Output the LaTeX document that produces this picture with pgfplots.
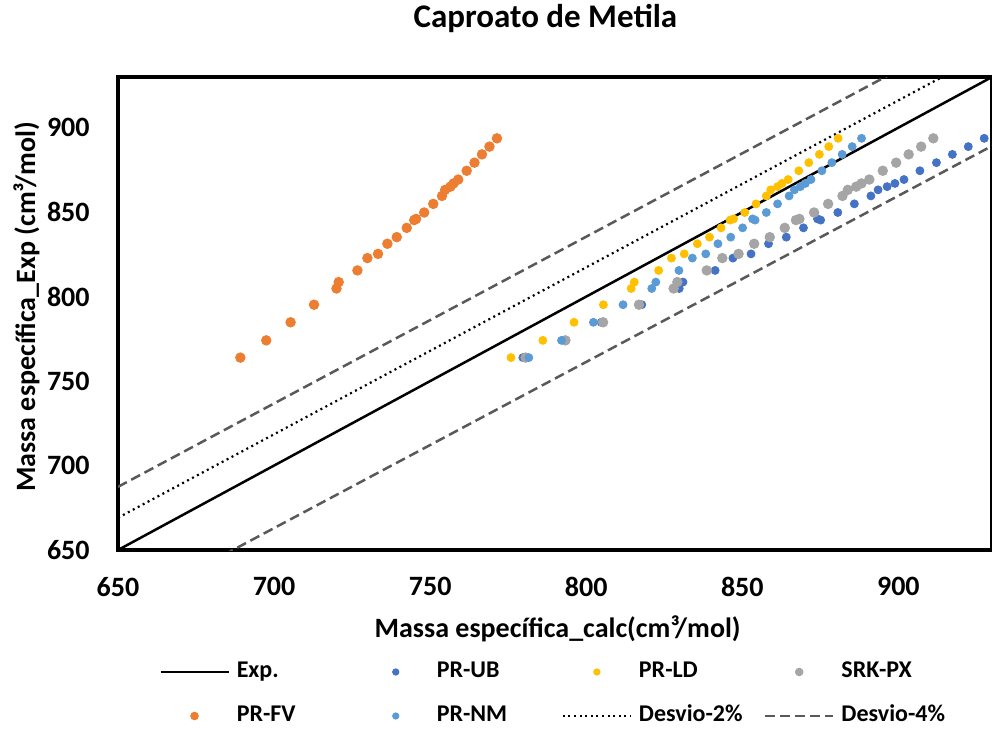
\documentclass[border=0pt]{standalone}
\usepackage{pgfplots}
\pgfplotsset{compat=1.18}
\usepackage{pgfplotstable}
\usepackage{fontspec}
\setmainfont{Carlito}

\definecolor{ub}{HTML}{4472C4}
\definecolor{ld}{HTML}{FFC000}
\definecolor{px}{HTML}{A5A5A5}
\definecolor{fv}{HTML}{ED7D31}
\definecolor{nm}{HTML}{5B9BD5}
\definecolor{dv}{HTML}{595959}

% y = experimental value, other columns = calculated value per model
\pgfplotstableread{
y     fv     ld     nm     px     ub
763.9 689.2  775.9  781.6  780.6  779.7
774.1 697.5  786.1  792.1  793.3  793.5
784.8 705.3  796.1  802.3  805.4  804.8
795.2 712.8  805.5  811.8  816.9  817.8
804.8 720.0  814.4  821.0  828.0  829.8
808.6 720.7  815.4  822.3  829.2  831.0
815.5 726.7  823.2  829.7  838.6  841.3
822.8 729.9  827.3  834.0  843.6  847.0
825.3 733.3  831.4  838.3  848.8  852.8
831.3 736.3  835.6  842.2  853.8  858.4
835.2 739.3  839.5  846.3  858.8  864.1
840.7 742.5  843.2  850.1  863.6  869.6
845.3 744.9  846.1  854.1  867.2  875.1
846.0 745.5  847.2  853.3  868.3  874.1
849.8 748.1  850.8  857.7  873.0  880.6
854.9 751.0  854.4  861.3  877.5  885.9
859.6 753.8  857.7  865.0  882.1  891.2
863.2 754.8  859.1  866.7  883.8  893.5
865.1 756.5  861.3  868.6  886.5  896.4
867.0 757.5  862.7  870.2  888.2  898.9
869.3 759.0  864.7  872.0  890.7  901.8
874.5 761.7  868.1  875.5  895.0  906.9
879.3 764.2  871.3  878.7  899.3  912.2
884.2 766.6  874.7  882.0  903.3  917.3
888.8 769.0  877.7  885.2  907.3  922.4
893.7 771.4  880.7  888.2  911.2  927.5
}\dados

\pgfplotsset{
  legimg/.style={legend image code/.code={%
    \path[draw=none, fill=none] (0pt,-3pt) rectangle (34pt,3pt);
    \draw[mark repeat=2,mark phase=2,##1] plot coordinates {(0pt,0pt) (17pt,0pt) (34pt,0pt)};}},
  pts/.style={only marks, mark=*, color=#1, legimg},
}

\begin{document}
\begin{tikzpicture}
\begin{axis}[
  scale only axis,
  width=437pt, height=236.5pt,
  xmin=650, xmax=930, ymin=650, ymax=930,
  xtick={650,700,...,900}, ytick={650,700,...,900},
  major tick length=0pt,
  axis line style={line width=2pt},
  /pgf/number format/assume math mode=true,
  ticklabel style={font=\fontsize{14}{16}\selectfont\bfseries},
  xticklabel style={anchor=north, inner sep=0pt, yshift=-13.5pt},
  yticklabel style={anchor=east, inner sep=0pt, xshift=-14pt},
  every axis title shift=0pt,
  title={Caproato de Metila},
  title style={at={(axis description cs:0.489,1.1036)}, anchor=base, inner sep=0pt,
    font=\fontsize{16.5}{19}\selectfont\bfseries},
  xlabel={Massa específica\_calc(cm³/mol)},
  xlabel style={at={(axis description cs:0.503,-0.186)}, anchor=base, inner sep=0pt,
    font=\fontsize{14}{17}\selectfont\bfseries},
  ylabel={Massa específica\_Exp (cm³/mol)},
  ylabel style={at={(axis description cs:-0.1201,0.514)}, anchor=north, inner sep=0pt,
    font=\fontsize{14}{17}\selectfont\bfseries},
  legend columns=4,
  legend cell align=left,
  legend image post style={every mark/.append style={scale=0.8}},
  legend style={at={(axis description cs:0.509,-0.3044)}, anchor=center,
    draw=none, fill=none, column sep=0pt, row sep=10pt, inner sep=0pt,
    nodes={text width=59pt, inner xsep=3.5pt, inner ysep=0pt,
      text height=9pt, text depth=3pt, align=left,
      font=\fontsize{12}{14}\selectfont\bfseries}},
]
\coordinate (SW) at (rel axis cs:0,0);
\coordinate (NE) at (rel axis cs:1,1);

\addplot[black, line width=1.25pt, legimg] coordinates {(650,650) (930,930)};
\addlegendentry{Exp.}
\addplot[pts=ub, mark size=2pt] table[x=ub, y=y] {\dados};
\addlegendentry{PR-UB}
\addplot[pts=ld, mark size=2pt] table[x=ld, y=y] {\dados};
\addlegendentry{PR-LD}
\addplot[pts=px, mark size=2.4pt] table[x=px, y=y] {\dados};
\addlegendentry{SRK-PX}
\addplot[pts=fv, mark size=2.4pt] table[x=fv, y=y] {\dados};
\addlegendentry{PR-FV}
\addplot[pts=nm, mark size=2pt] table[x=nm, y=y] {\dados};
\addlegendentry{PR-NM}
\addplot[black, line width=1.1pt, dash pattern=on 1pt off 1.8pt, legimg]
  coordinates {(650,669.1) (930,945.8)};
\addlegendentry{Desvio-2\%}
\addplot[dv, line width=1.25pt, dash pattern=on 5pt off 2.5pt, legimg]
  coordinates {(650,687.4) (930,963.8)};
\addlegendentry{Desvio-4\%}
\addplot[dv, line width=1.25pt, dash pattern=on 5pt off 2.5pt, forget plot]
  coordinates {(650,613.8) (930,889.2)};
\end{axis}
\pgfresetboundingbox
\path[use as bounding box] ([xshift=-59pt,yshift=-89.5pt]SW) rectangle ([yshift=38.5pt]NE);
\end{tikzpicture}
\end{document}
